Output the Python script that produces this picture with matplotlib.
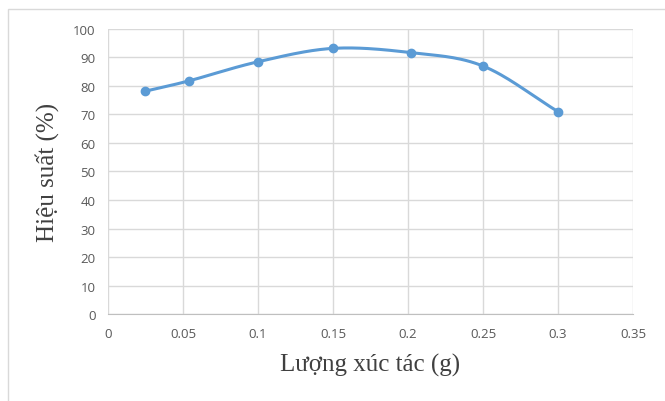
import numpy as np
import matplotlib.pyplot as plt
from matplotlib.patches import Rectangle

# catalyst amount (g) vs yield (%)
luong_xuc_tac = [0.025, 0.054, 0.1, 0.15, 0.202, 0.25, 0.3]
hieu_suat = [78.2, 81.8, 88.5, 93.2, 91.7, 87.0, 71.0]

xticks = [0, 0.05, 0.1, 0.15, 0.2, 0.25, 0.3, 0.35]
xtick_labels = ["0", "0.05", "0.1", "0.15", "0.2", "0.25", "0.3", "0.35"]
yticks = list(range(0, 101, 10))


def smooth_line(x, y, n=30):
    # Catmull-Rom style curve through the points, like Excel's smoothed line
    x = np.asarray(x, float)
    y = np.asarray(y, float)
    px = np.concatenate([[2 * x[0] - x[1]], x, [2 * x[-1] - x[-2]]])
    py = np.concatenate([[2 * y[0] - y[1]], y, [2 * y[-1] - y[-2]]])
    xs, ys = [], []
    t = np.linspace(0, 1, n)
    for i in range(1, len(px) - 2):
        for p, out in ((px, xs), (py, ys)):
            p0, p1, p2, p3 = p[i - 1], p[i], p[i + 1], p[i + 2]
            out.extend(0.5 * (2 * p1 + (-p0 + p2) * t
                              + (2 * p0 - 5 * p1 + 4 * p2 - p3) * t ** 2
                              + (-p0 + 3 * p1 - 3 * p2 + p3) * t ** 3))
    return xs, ys


fig = plt.figure(figsize=(6.65, 4.02), dpi=100)
ax = fig.add_axes([0.1624, 0.2164, 0.7895, 0.709])

# chart frame
fig.patches.append(Rectangle((0.012, -0.01), 0.99, 0.985, transform=fig.transFigure,
                             fill=False, edgecolor="#d9d9d9", linewidth=1))

sx, sy = smooth_line(luong_xuc_tac, hieu_suat)
ax.plot(sx, sy, color="#5b9bd5", linewidth=2.2, solid_capstyle="round", zorder=3)
ax.plot(luong_xuc_tac, hieu_suat, "o", color="#5b9bd5", markersize=6, zorder=4)

ax.set_xlim(0, 0.35)
ax.set_ylim(0, 100)
ax.set_xticks(xticks)
ax.set_xticklabels(xtick_labels)
ax.set_yticks(yticks)
ax.grid(True, color="#d9d9d9", linewidth=1)
ax.set_axisbelow(True)
for side in ["top", "right", "left"]:
    ax.spines[side].set_visible(False)
ax.spines["bottom"].set_color("#bfbfbf")
ax.tick_params(length=0, labelsize=9.5, labelcolor="#595959", pad=9)
for lab in ax.get_xticklabels() + ax.get_yticklabels():
    lab.set_family("Open Sans")

ax.set_xlabel("Lượng xúc tác (g)", family="Liberation Serif", fontsize=18,
              color="#404040", labelpad=10)
ax.set_ylabel("Hiệu suất (%)", family="Liberation Serif", fontsize=18,
              color="#404040", labelpad=10)

fig.savefig("out.png", dpi=100)
